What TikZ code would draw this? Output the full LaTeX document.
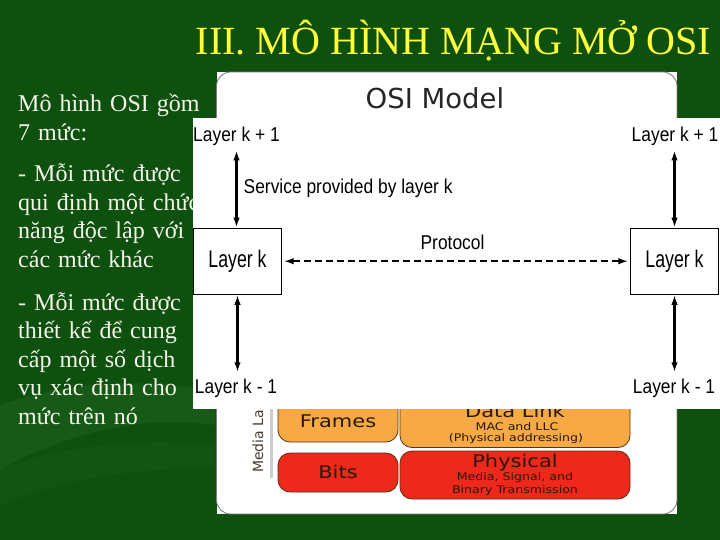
\documentclass[tikz,border=0pt]{standalone}
\usepackage{fontspec}
\setmainfont{Liberation Serif}
\newfontfamily\lblfont[FakeStretch=0.87]{Liberation Sans}
\newfontfamily\boxfont[FakeStretch=0.74]{Liberation Sans}
\newfontfamily\dvfont{DejaVu Sans}
\newfontfamily\dvwide[FakeStretch=1.2]{DejaVu Sans}
\usetikzlibrary{arrows.meta}
\definecolor{bggreen}{RGB}{14,80,14}
\definecolor{swooshgreen}{RGB}{45,115,45}
\definecolor{titleyellow}{RGB}{255,255,60}
\definecolor{bodytext}{RGB}{245,245,235}
\definecolor{frameorange}{RGB}{247,169,68}
\definecolor{bitsred}{RGB}{238,40,26}
\definecolor{boxedge}{RGB}{90,50,20}
\definecolor{darktext}{RGB}{40,25,10}
\begin{document}
\begin{tikzpicture}[x=1pt,y=-1pt,
  para/.style={anchor=base west, text width=215pt, align=left, inner sep=0pt,
    font=\fontsize{24}{28.5}\selectfont, text=bodytext},
  lbl/.style={inner sep=0pt, font=\lblfont\fontsize{20}{24}\selectfont},
  laybox/.style={draw, line width=1.2pt, minimum width=88pt, minimum height=66pt,
    inner sep=0pt, font=\boxfont\fontsize{24}{28}\selectfont},
  dbl/.style={{Latex[length=10pt,width=6.5pt]}-{Latex[length=10pt,width=6.5pt]}, line width=2.2pt},
  proto/.style={{Latex[length=10pt,width=6.5pt]}-{Latex[length=10pt,width=6.5pt]}, line width=2.2pt,
    dash pattern=on 7pt off 4pt, shorten <=1.5pt, shorten >=1.5pt},
  orangebox/.style={fill=frameorange, draw=boxedge, line width=0.8pt, rounded corners=12pt},
  redbox/.style={fill=bitsred, draw=boxedge, line width=0.8pt, rounded corners=12pt},
  bigtxt/.style={inner sep=0pt, text=darktext, font=\dvwide\fontsize{17.5}{20}\selectfont},
  smalltxt/.style={inner sep=0pt, text=darktext, font=\dvwide\fontsize{10.5}{12}\selectfont}
]
\useasboundingbox (0,0) rectangle (720,540);
% background
\fill[bggreen] (0,0) rectangle (720,540);
\fill[swooshgreen, opacity=0.3] (0,405) .. controls (70,380) and (150,378) .. (215,392)
  -- (215,425) .. controls (150,415) and (70,430) .. (0,470) -- cycle;
\fill[swooshgreen, opacity=0.15] (0,470) .. controls (60,445) and (140,438) .. (215,445)
  -- (215,470) .. controls (140,465) and (60,480) .. (0,505) -- cycle;

% title
\node[anchor=base, inner sep=0pt, font=\fontsize{40}{48}\selectfont, text=titleyellow]
  (title) at (453.5,55) {III. MÔ HÌNH MẠNG MỞ OSI};

% left text
\node[para] (p1) at (18,112) {Mô hình OSI gồm\\7 mức:};
\node[para] (p2) at (18,182) {- Mỗi mức được\\qui định một chức\\năng độc lập với\\các mức khác};
\node[para] (p3) at (18,310) {- Mỗi mức được\\thiết kế để cung\\cấp một số dịch\\vụ xác định cho\\mức trên nó};

% OSI model picture
\fill[white] (216.5,72) rectangle (677,514);
\draw[gray, line width=0.9pt, rounded corners=14pt] (216.5,72) rectangle (677,514);
\node[anchor=base, inner sep=0pt, text=black!85, font=\dvfont\fontsize{27.5}{30}\selectfont]
  (osititle) at (435,108.3) {OSI Model};

\node[rotate=90, anchor=base west, inner sep=0pt, text=darktext!85,
  font=\dvfont\fontsize{14}{16}\selectfont] (media) at (263,473) {Media La};
\draw[line width=3pt, gray!40] (271,400) -- (271,478);

\draw[orangebox] (278,380) rectangle (398,442);
\draw[orangebox] (400,380) rectangle (630,447.5);
\draw[redbox] (278,453) rectangle (398,492);
\draw[redbox] (400,451) rectangle (630,499);

\node[bigtxt] (frames) at (338,421) {Frames};
\node[bigtxt] (bits) at (338,472) {Bits};
\node[bigtxt] (datalink) at (515,411) {Data Link};
\node[smalltxt] (mac) at (517,426.5) {MAC and LLC};
\node[smalltxt] (addr) at (516,439) {(Physical addressing)};
\node[bigtxt] (phys) at (515,462.5) {Physical};
\node[smalltxt] (media2) at (515,477.5) {Media, Signal, and};
\node[smalltxt] (binary) at (515,491) {Binary Transmission};

% overlay picture: layers
\fill[white] (192.5,118) rectangle (720,408.5);

\node[lbl, anchor=base] (kp1L) at (236.5,142) {Layer k + 1};
\node[lbl, anchor=base] (kp1R) at (675,142) {Layer k + 1};
\node[lbl, anchor=base] (km1L) at (236,393) {Layer k - 1};
\node[lbl, anchor=base] (km1R) at (674,393) {Layer k - 1};

\node[laybox] (layL) at (237.5,261.2) {Layer k};
\node[laybox] (layR) at (674.5,261.2) {Layer k};

\draw[dbl, shorten <=4pt] (kp1L.south) -- (kp1L.south |- layL.north);
\draw[dbl, shorten >=6pt] (layL.south) -- (layL.south |- km1L.north);
\draw[dbl, shorten <=4pt] (layR.north |- kp1R.south) -- (layR.north);
\draw[dbl, shorten >=6pt] (layR.south) -- (layR.south |- km1R.north);

\node[lbl, anchor=base west] (service) at (243.5,193.3) {Service provided by layer k};

\draw[proto] (layL.east) -- node[lbl, anchor=base, pos=0.49, yshift=12pt] (protocol) {Protocol} (layR.west);
\end{tikzpicture}
\end{document}
